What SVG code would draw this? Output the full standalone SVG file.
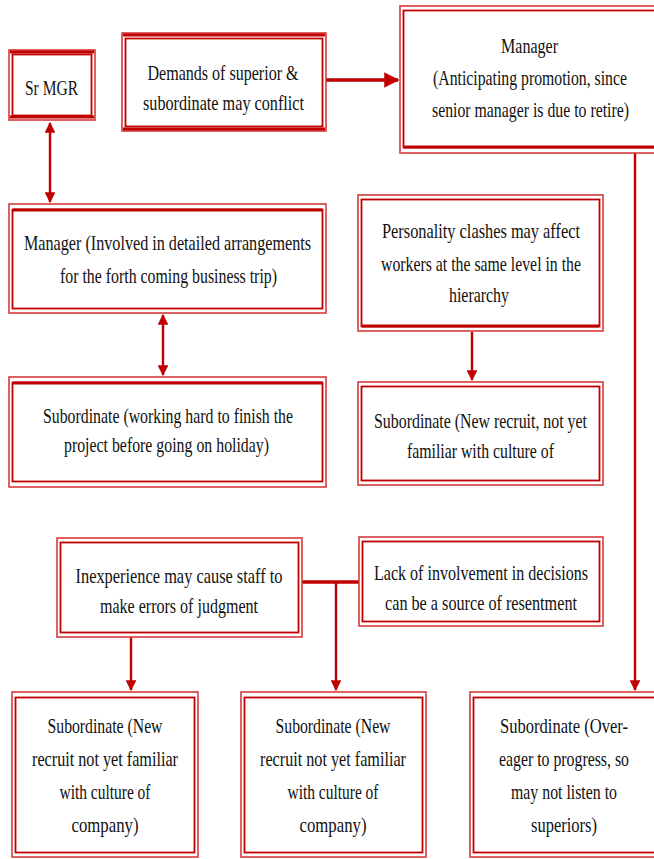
<svg xmlns="http://www.w3.org/2000/svg" width="654" height="859" viewBox="0 0 654 859">
<style>
.o{fill:#fff;stroke:#d83a3a;stroke-width:1.6}
.i{fill:none;stroke:#c00000;stroke-width:1.8}
.tk{stroke:#c00000;stroke-width:3.2}
text{font-family:"Liberation Serif","Times New Roman",serif;font-size:21px;fill:#111;text-anchor:middle}
.c{stroke:#c00000;stroke-width:2.4;fill:none}
.cw{stroke:#c00000;stroke-width:3.4;fill:none}
</style>
<defs>
<marker id="ah" viewBox="0 0 10 10" refX="9" refY="5" markerWidth="4.5" markerHeight="4.5" orient="auto-start-reverse" markerUnits="strokeWidth"><path d="M0,0L10,5L0,10z" fill="#c00000"/></marker>
</defs>
<rect width="654" height="859" fill="#fff"/>
<g id="connectors">
<path class="cw" d="M326,80H398" marker-end="url(#ah)"/>
<path class="c" d="M635,153V690" marker-end="url(#ah)"/>
<path class="c" d="M50,123V202" marker-start="url(#ah)" marker-end="url(#ah)"/>
<path class="c" d="M163,315V375" marker-start="url(#ah)" marker-end="url(#ah)"/>
<path class="c" d="M472,332V380" marker-end="url(#ah)"/>
<path class="cw" d="M302,582H359"/>
<path class="c" d="M336,582V690" marker-end="url(#ah)"/>
<path class="c" d="M131,637V690" marker-end="url(#ah)"/>
</g>
<g id="srmgr">
<rect class="o" x="9" y="50" width="86" height="70"/>
<rect class="i" x="12.5" y="54.5" width="79" height="61"/>
<line class="tk" x1="10" y1="52" x2="94" y2="52"/>
<line class="tk" x1="10" y1="117" x2="94" y2="117"/>
<text x="51.5" y="95" textLength="53" lengthAdjust="spacingAndGlyphs">Sr MGR</text>
</g>
<g id="demands">
<rect class="o" x="122" y="33" width="204" height="98"/>
<rect class="i" x="125.5" y="38.5" width="197" height="88"/>
<line class="tk" x1="123" y1="35" x2="325" y2="35"/>
<line class="tk" x1="123" y1="129" x2="325" y2="129"/>
<text x="223" y="80" textLength="151" lengthAdjust="spacingAndGlyphs">Demands of superior &amp;</text>
<text x="223.5" y="110" textLength="161" lengthAdjust="spacingAndGlyphs">subordinate may conflict</text>
</g>
<g id="manager-top">
<rect class="o" x="400" y="6" width="270" height="147"/>
<rect class="i" x="403.5" y="10.5" width="270" height="137"/>
<line class="tk" x1="404" y1="147" x2="660" y2="147"/>
<text x="529.5" y="53" textLength="57" lengthAdjust="spacingAndGlyphs">Manager</text>
<text x="530" y="85" textLength="194" lengthAdjust="spacingAndGlyphs">(Anticipating promotion, since</text>
<text x="530.5" y="117" textLength="197" lengthAdjust="spacingAndGlyphs">senior manager is due to retire)</text>
</g>
<g id="manager-involved">
<rect class="o" x="9" y="204" width="317" height="109"/>
<rect class="i" x="12.5" y="209.5" width="310" height="99"/>
<line class="tk" x1="13" y1="210" x2="322" y2="210"/>
<text x="167.5" y="250" textLength="287" lengthAdjust="spacingAndGlyphs">Manager (Involved in detailed arrangements</text>
<text x="168.5" y="283" textLength="217" lengthAdjust="spacingAndGlyphs">for the forth coming business trip)</text>
</g>
<g id="personality">
<rect class="o" x="358" y="195" width="245" height="136"/>
<rect class="i" x="361.5" y="199.5" width="238" height="127"/>
<line class="tk" x1="362" y1="326" x2="599" y2="326"/>
<text x="481" y="238" textLength="198" lengthAdjust="spacingAndGlyphs">Personality clashes may affect</text>
<text x="481" y="271" textLength="200" lengthAdjust="spacingAndGlyphs">workers at the same level in the</text>
<text x="479" y="302" textLength="60" lengthAdjust="spacingAndGlyphs">hierarchy</text>
</g>
<g id="sub-working">
<rect class="o" x="9" y="377" width="317" height="110"/>
<rect class="i" x="12.5" y="382.5" width="310" height="99"/>
<line class="tk" x1="13" y1="383" x2="322" y2="383"/>
<text x="168" y="423" textLength="250" lengthAdjust="spacingAndGlyphs">Subordinate (working hard to finish the</text>
<text x="166.5" y="452" textLength="205" lengthAdjust="spacingAndGlyphs">project before going on holiday)</text>
</g>
<g id="sub-newrecruit">
<rect class="o" x="358" y="382" width="245" height="103"/>
<rect class="i" x="361.5" y="386.5" width="238" height="94"/>
<text x="480.5" y="428" textLength="213" lengthAdjust="spacingAndGlyphs">Subordinate (New recruit, not yet</text>
<text x="480.5" y="458" textLength="147" lengthAdjust="spacingAndGlyphs">familiar with culture of</text>
</g>
<g id="inexperience">
<rect class="o" x="57" y="538" width="245" height="99"/>
<rect class="i" x="60.5" y="542.5" width="238" height="90"/>
<text x="179" y="583" textLength="207" lengthAdjust="spacingAndGlyphs">Inexperience may cause staff to</text>
<text x="179" y="613" textLength="158" lengthAdjust="spacingAndGlyphs">make errors of judgment</text>
</g>
<g id="lack">
<rect class="o" x="359" y="537" width="244" height="89"/>
<rect class="i" x="362.5" y="541.5" width="237" height="80"/>
<text x="481" y="580" textLength="214" lengthAdjust="spacingAndGlyphs">Lack of involvement in decisions</text>
<text x="481" y="610" textLength="192" lengthAdjust="spacingAndGlyphs">can be a source of resentment</text>
</g>
<g id="sub-b1">
<rect class="o" x="12" y="692" width="186" height="165"/>
<rect class="i" x="15.5" y="697.5" width="179" height="155"/>
<text x="105" y="733" textLength="115" lengthAdjust="spacingAndGlyphs">Subordinate (New</text>
<text x="105" y="766" textLength="146" lengthAdjust="spacingAndGlyphs">recruit not yet familiar</text>
<text x="105" y="799" textLength="91" lengthAdjust="spacingAndGlyphs">with culture of</text>
<text x="105" y="832" textLength="67" lengthAdjust="spacingAndGlyphs">company)</text>
</g>
<g id="sub-b2">
<rect class="o" x="241" y="692" width="185" height="165"/>
<rect class="i" x="244.5" y="697.5" width="178" height="155"/>
<text x="333" y="733" textLength="115" lengthAdjust="spacingAndGlyphs">Subordinate (New</text>
<text x="333" y="766" textLength="146" lengthAdjust="spacingAndGlyphs">recruit not yet familiar</text>
<text x="333" y="799" textLength="91" lengthAdjust="spacingAndGlyphs">with culture of</text>
<text x="333" y="832" textLength="67" lengthAdjust="spacingAndGlyphs">company)</text>
</g>
<g id="sub-b3">
<rect class="o" x="470" y="692" width="200" height="165"/>
<rect class="i" x="473.5" y="697.5" width="200" height="155"/>
<text x="564" y="733" textLength="128" lengthAdjust="spacingAndGlyphs">Subordinate (Over-</text>
<text x="564" y="766" textLength="130" lengthAdjust="spacingAndGlyphs">eager to progress, so</text>
<text x="564" y="799" textLength="106" lengthAdjust="spacingAndGlyphs">may not listen to</text>
<text x="564" y="832" textLength="66" lengthAdjust="spacingAndGlyphs">superiors)</text>
</g>
</svg>
